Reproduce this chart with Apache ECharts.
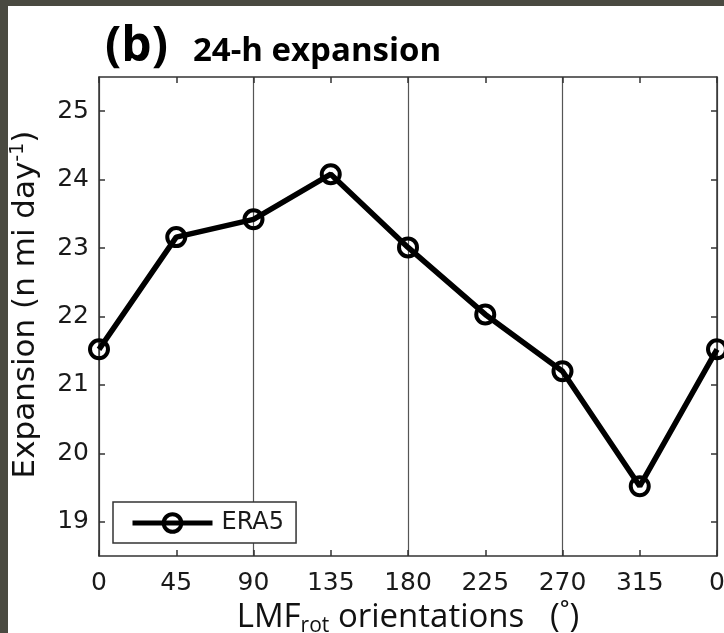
<!DOCTYPE html>
<html>
<head>
<meta charset="utf-8">
<title>24-h expansion</title>
<script src="https://cdn.jsdelivr.net/npm/echarts@6/dist/echarts.min.js"></script>
<style>
  html, body { margin: 0; padding: 0; background: #ffffff; }
  #chart { width: 724px; height: 633px; }
</style>
</head>
<body>
<div id="chart"></div>
<script>
// LMF_rot orientations (degrees); 360 closes the cycle back to 0
const orientations = [0, 45, 90, 135, 180, 225, 270, 315, 360];
// ERA5 24-h expansion (n mi day^-1)
const era5Expansion = [21.52, 23.16, 23.42, 24.08, 23.01, 22.03, 21.20, 19.52, 21.52];
// Tick labels
const xTickLabels = ['0', '45', '90', '135', '180', '225', '270', '315', '0'];
const yTickValues = [19, 20, 21, 22, 23, 24, 25];

const seriesData = orientations.map((x, i) => [x, era5Expansion[i]]);

const axisColor = '#333';
const tickFont = { fontFamily: 'DejaVu Sans', fontSize: 25, color: '#1a1a1a' };
const titleFont = 'Open Sans';

const chart = echarts.init(document.getElementById('chart'), null, { renderer: 'canvas' });

chart.setOption({
  backgroundColor: '#ffffff',
  animation: false,
  graphic: [
    // dark frame strips along the left and top edges
    { type: 'rect', left: 0, top: 0, shape: { width: 8, height: 633 }, style: { fill: '#4a4a41' }, z: 100 },
    { type: 'rect', left: 0, top: 0, shape: { width: 724, height: 6 }, style: { fill: '#4a4a41' }, z: 100 }
  ],
  title: {
    text: '{b|(b)}{t|24-h expansion}',
    left: 105,
    top: 23,
    padding: 0,
    textStyle: {
      rich: {
        b: { fontFamily: titleFont, fontWeight: 'bold', fontSize: 48, color: '#000' },
        t: { fontFamily: titleFont, fontWeight: 'bold', fontSize: 33, color: '#000', padding: [10, 0, 0, 25] }
      }
    }
  },
  legend: {
    left: 113,
    top: 502,
    orient: 'horizontal',
    backgroundColor: '#ffffff',
    borderColor: axisColor,
    borderWidth: 1.5,
    borderRadius: 0,
    padding: [9, 12, 8, 17],
    itemWidth: 80,
    itemHeight: 22,
    itemGap: 0,
    lineStyle: { width: 5, color: '#000' },
    itemStyle: { color: 'rgba(255,255,255,0)', borderColor: '#000', borderWidth: 4 },
    textStyle: { fontFamily: 'DejaVu Sans', fontSize: 24, color: '#1a1a1a', padding: [0, 0, 0, 4] },
    data: ['ERA5']
  },
  grid: { left: 99, right: 7, top: 77, bottom: 77, containLabel: false, outerBoundsMode: 'none' },
  xAxis: [
    {
      type: 'value',
      min: 0, max: 360, interval: 45,
      position: 'bottom',
      axisLine: { show: true, onZero: false, lineStyle: { color: axisColor, width: 1.5 } },
      axisTick: { show: true, inside: true, length: 6, lineStyle: { color: axisColor, width: 1.5 } },
      axisLabel: {
        show: true,
        margin: 15,
        formatter: (v) => xTickLabels[Math.round(v / 45)],
        ...tickFont
      },
      splitLine: { show: false },
      name: '{a|LMF}{s|rot}{a| orientations   (˚)}',
      nameLocation: 'middle',
      nameGap: 40,
      nameTextStyle: {
        rich: {
          a: { fontFamily: titleFont, fontSize: 33, color: '#111' },
          s: { fontFamily: titleFont, fontSize: 21, color: '#111', padding: [18, 0, 0, 0] }
        }
      }
    },
    {
      type: 'value',
      min: 0, max: 360, interval: 45,
      position: 'top',
      axisLine: { show: true, onZero: false, lineStyle: { color: axisColor, width: 1.5 } },
      axisTick: { show: true, inside: true, length: 6, lineStyle: { color: axisColor, width: 1.5 } },
      axisLabel: { show: false },
      splitLine: { show: false }
    },
    {
      // vertical reference lines every 90 degrees
      type: 'value',
      min: 0, max: 360, interval: 90,
      position: 'top',
      axisLine: { show: false },
      axisTick: { show: false },
      axisLabel: { show: false },
      splitLine: { show: true, lineStyle: { color: '#555', width: 1.2 } }
    }
  ],
  yAxis: [
    {
      type: 'value',
      min: 18.5, max: 25.5,
      position: 'left',
      axisLine: { show: true, onZero: false, lineStyle: { color: axisColor, width: 1.5 } },
      axisTick: { show: true, inside: true, length: 6, customValues: yTickValues, lineStyle: { color: axisColor, width: 1.5 } },
      axisLabel: { show: true, margin: 10, customValues: yTickValues, ...tickFont },
      splitLine: { show: false },
      name: '{a|Expansion (n mi day}{p|-1}{a|)}',
      nameLocation: 'middle',
      nameRotate: 90,
      nameGap: 56,
      nameTextStyle: {
        padding: [0, 0, 0, 24],
        rich: {
          a: { fontFamily: 'DejaVu Sans', fontSize: 31, color: '#111' },
          p: { fontFamily: 'DejaVu Sans', fontSize: 19, color: '#111', padding: [0, 0, 15, 0] }
        }
      }
    },
    {
      type: 'value',
      min: 18.5, max: 25.5,
      position: 'right',
      axisLine: { show: true, onZero: false, lineStyle: { color: axisColor, width: 1.5 } },
      axisTick: { show: true, inside: true, length: 6, customValues: yTickValues, lineStyle: { color: axisColor, width: 1.5 } },
      axisLabel: { show: false },
      splitLine: { show: false }
    }
  ],
  series: [
    {
      name: 'ERA5',
      type: 'line',
      xAxisIndex: 0,
      yAxisIndex: 0,
      data: seriesData,
      symbol: 'circle',
      symbolSize: 18,
      showSymbol: true,
      clip: false,
      lineStyle: { color: '#000', width: 5.5 },
      itemStyle: { color: 'rgba(255,255,255,0)', borderColor: '#000', borderWidth: 4 },
      z: 5
    }
  ]
});
</script>
</body>
</html>
